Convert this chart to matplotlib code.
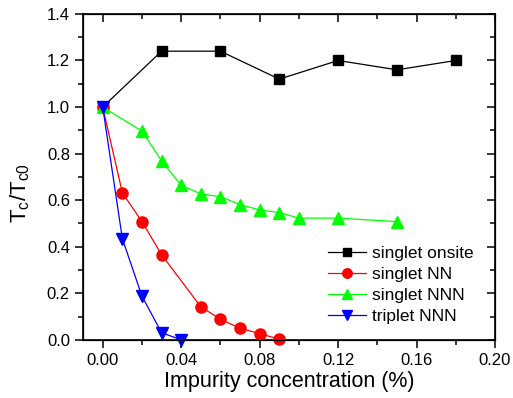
import numpy as np
import matplotlib
matplotlib.use('Agg')
import matplotlib.pyplot as plt
from matplotlib.ticker import MultipleLocator, FormatStrFormatter

plt.rcParams['font.family'] = ['Liberation Sans', 'DejaVu Sans']
plt.rcParams['mathtext.fontset'] = 'custom'
plt.rcParams['mathtext.rm'] = 'Liberation Sans'

x_onsite = [0.0, 0.03, 0.06, 0.09, 0.12, 0.15, 0.18]
y_onsite = [1.0, 1.24, 1.24, 1.12, 1.20, 1.16, 1.20]

x_nn = [0.0, 0.01, 0.02, 0.03, 0.05, 0.06, 0.07, 0.08, 0.09]
y_nn = [1.0, 0.632, 0.508, 0.366, 0.142, 0.089, 0.050, 0.027, 0.003]

x_nnn = [0.0, 0.02, 0.03, 0.04, 0.05, 0.06, 0.07, 0.08, 0.09, 0.10, 0.12, 0.15]
y_nnn = [1.0, 0.897, 0.769, 0.664, 0.627, 0.615, 0.581, 0.558, 0.547, 0.523, 0.523, 0.508]

x_trip = [0.0, 0.01, 0.02, 0.03, 0.04]
y_trip = [1.0, 0.435, 0.188, 0.031, 0.0]

fig = plt.figure(figsize=(5.13, 3.98), dpi=100)
ax = fig.add_axes([0.162, 0.146, 0.803, 0.819])

ax.plot(x_onsite, y_onsite, color='black', marker='s', markersize=7, linewidth=0.9, label='singlet onsite', clip_on=False, zorder=3)
ax.plot(x_nn, y_nn, color='red', marker='o', markersize=8, linewidth=0.9, label='singlet NN', clip_on=False, zorder=3)
ax.plot(x_nnn, y_nnn, color='#00ff00', marker='^', markersize=8, linewidth=0.9, label='singlet NNN', clip_on=False, zorder=3)
ax.plot(x_trip, y_trip, color='blue', marker='v', markersize=8, linewidth=0.9, label='triplet NNN', clip_on=False, zorder=4)

ax.set_xlim(-0.01, 0.20)
ax.set_ylim(0.0, 1.4)
ax.xaxis.set_major_locator(MultipleLocator(0.04))
ax.xaxis.set_minor_locator(MultipleLocator(0.02))
ax.yaxis.set_major_locator(MultipleLocator(0.2))
ax.yaxis.set_minor_locator(MultipleLocator(0.1))
ax.xaxis.set_major_formatter(FormatStrFormatter('%.2f'))
ax.yaxis.set_major_formatter(FormatStrFormatter('%.1f'))
ax.tick_params(which='both', direction='out', width=1.1, labelsize=12)
ax.tick_params(which='major', length=6)
ax.tick_params(which='minor', length=3.5)
for s in ax.spines.values():
    s.set_linewidth(1.2)

# inward ticks on top and right
axr = ax.twinx()
axr.set_ylim(ax.get_ylim())
axr.yaxis.set_major_locator(MultipleLocator(0.2))
axr.yaxis.set_minor_locator(MultipleLocator(0.1))
axr.tick_params(which='both', direction='in', width=1.1, labelright=False)
axr.tick_params(which='major', length=6)
axr.tick_params(which='minor', length=3.5)
axt = ax.twiny()
axt.set_xlim(ax.get_xlim())
axt.xaxis.set_major_locator(MultipleLocator(0.04))
axt.xaxis.set_minor_locator(MultipleLocator(0.02))
axt.tick_params(which='both', direction='in', width=1.1, labeltop=False)
axt.tick_params(which='major', length=6)
axt.tick_params(which='minor', length=3.5)

ax.set_xlabel('Impurity concentration (%)', fontsize=15.5, labelpad=2)
ax.set_ylabel(r'T$_\mathregular{c}$/T$_\mathregular{c0}$', fontsize=16, labelpad=4)
ax.yaxis.set_label_coords(-0.125, 0.45)

ax.legend(loc='lower right', bbox_to_anchor=(0.985, 0.0), frameon=False, fontsize=12.5,
          handlelength=2.2, handletextpad=0.3, labelspacing=0.35, markerscale=0.85)

fig.savefig('out.png', dpi=100)
